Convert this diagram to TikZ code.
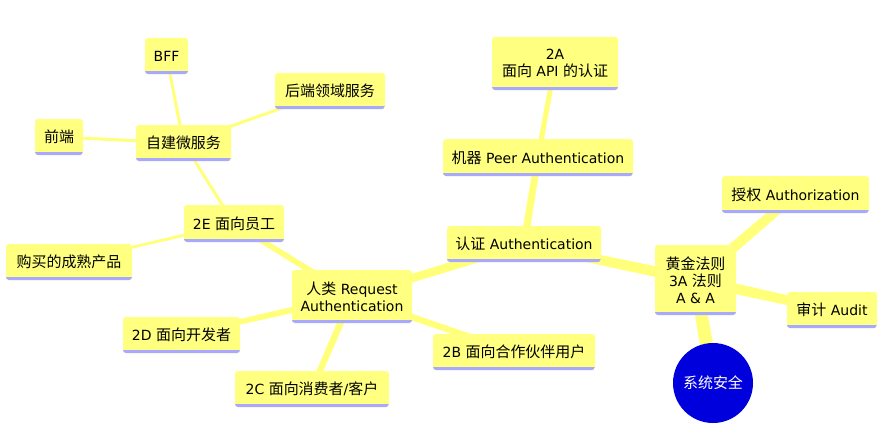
\documentclass[tikz,border=0pt]{standalone}
\usepackage{fontspec}
\setmainfont{DejaVu Sans}
\newfontfamily\cjk{Noto Sans CJK SC}[Scale=1.07]
\usetikzlibrary{calc,backgrounds}
\definecolor{boxyellow}{HTML}{FFFF80}
\definecolor{lineyellow}{HTML}{FFFF7A}
\definecolor{lav}{HTML}{A8A8FF}
\definecolor{rootblue}{HTML}{0000DD}
% tapered connector: from node #1 (half width #3) to node #2 (half width #4)
\newcommand{\taper}[4]{%
  \fill[lineyellow] ($(#1)!#3!90:(#2)$) -- ($(#1)!#3!-90:(#2)$)
    -- ($(#2)!#4!90:(#1)$) -- ($(#2)!#4!-90:(#1)$) -- cycle;}
\begin{document}
\begin{tikzpicture}[x=1pt,y=-1pt,
  topic/.style={fill=boxyellow, rounded corners=3pt, inner sep=0pt,
    align=center, font=\fontsize{14}{17}\selectfont, text=black,
    path picture={\fill[lav, sharp corners]
      ([yshift=-1pt]path picture bounding box.south west) rectangle
      ([yshift=3pt]path picture bounding box.south east);}},
  rootnode/.style={circle, fill=rootblue, inner sep=0pt, minimum size=80pt,
    font=\fontsize{14}{17}\selectfont, text=white}]
\useasboundingbox (0,0) rectangle (885,444);

\node[rootnode] (root) at (713,383) {\cjk 系统安全};
\node[topic, minimum width=81, minimum height=70] (gold) at (695.5,280)
  {{\cjk 黄金法则}\\3A {\cjk 法则}\\A \& A};
\node[topic, minimum width=147, minimum height=37] (authz) at (795.5,194.5)
  {{\cjk 授权} Authorization};
\node[topic, minimum width=90, minimum height=36] (audit) at (832,310)
  {{\cjk 审计} Audit};
\node[topic, minimum width=154, minimum height=36] (authn) at (524,244)
  {{\cjk 认证} Authentication};
\node[topic, minimum width=190, minimum height=37] (peer) at (538,157.5)
  {{\cjk 机器} Peer Authentication};
\node[topic, minimum width=126, minimum height=53] (api) at (555,63.5)
  {2A\\{\cjk 面向} API {\cjk 的认证}};
\node[topic, minimum width=120, minimum height=53] (human) at (352,296.5)
  {{\cjk 人类} Request\\Authentication};
\node[topic, minimum width=162, minimum height=36] (bb) at (514,352)
  {2B {\cjk 面向合作伙伴用户}};
\node[topic, minimum width=154, minimum height=36] (cc) at (312,389)
  {2C {\cjk 面向消费者}/{\cjk 客户}};
\node[topic, minimum width=117, minimum height=36] (dd) at (181.5,335)
  {2D {\cjk 面向开发者}};
\node[topic, minimum width=100, minimum height=37] (ee) at (234,223.5)
  {2E {\cjk 面向员工}};
\node[topic, minimum width=126, minimum height=36] (buy) at (69,262)
  {\cjk 购买的成熟产品};
\node[topic, minimum width=95, minimum height=36] (self) at (183.5,143)
  {\cjk 自建微服务};
\node[topic, minimum width=48, minimum height=36] (front) at (59,137)
  {\cjk 前端};
\node[topic, minimum width=43, minimum height=36] (bff) at (166.5,56)
  {BFF};
\node[topic, minimum width=110, minimum height=36] (back) at (330,91)
  {\cjk 后端领域服务};

\begin{scope}[on background layer]
  \taper{root}{gold}{7pt}{6pt}
  \taper{gold}{authz}{5.5pt}{4.5pt}
  \taper{gold}{audit}{5.5pt}{4.5pt}
  \taper{gold}{authn}{5.5pt}{4.5pt}
  \taper{authn}{peer}{3.8pt}{3.3pt}
  \taper{authn}{human}{4.5pt}{4pt}
  \taper{peer}{api}{2.7pt}{2.4pt}
  \taper{human}{bb}{3.3pt}{3pt}
  \taper{human}{cc}{3.5pt}{3pt}
  \taper{human}{dd}{3.3pt}{2.5pt}
  \taper{human}{ee}{3pt}{2.7pt}
  \taper{ee}{buy}{1.5pt}{1.3pt}
  \taper{ee}{self}{1.6pt}{1.4pt}
  \taper{self}{front}{1.6pt}{1.4pt}
  \taper{self}{bff}{1.6pt}{1.4pt}
  \taper{self}{back}{1.6pt}{1.4pt}
\end{scope}
\end{tikzpicture}
\end{document}
